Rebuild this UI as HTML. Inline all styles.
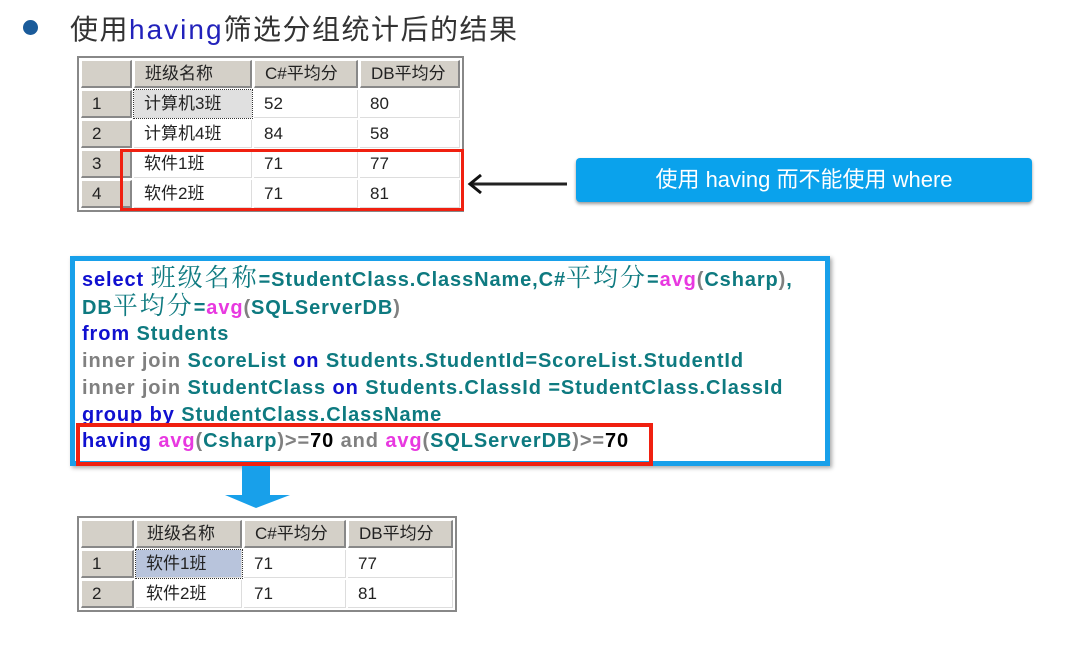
<!DOCTYPE html>
<html><head><meta charset="utf-8"><style>
body{margin:0;width:1089px;height:660px;background:#fff;position:relative;overflow:hidden;font-family:"Liberation Sans","Noto Sans CJK SC",sans-serif}
.a{position:absolute}
table{border-collapse:separate;border-spacing:2px;background:#fff;font-size:17px;font-family:"Liberation Sans","Noto Sans CJK SC",sans-serif;color:#222}
td{padding:0 0 0 10px;height:25px;line-height:25px;border-bottom:1px solid #ddd;border-right:1px solid #ddd}
td.h{background:#d4d0c8;border:1px solid #fff;border-right:2px solid #888;border-bottom:2px solid #888}
.code{font-weight:bold;font-size:20px;letter-spacing:0.9px;line-height:26.7px;color:#0e7a80;white-space:nowrap}
.k{color:#1010d0}.g{color:#808080}.p{color:#e838e0}.b{color:#000}
.cj{font-family:"Noto Serif CJK SC",serif;font-weight:normal;font-size:25px;letter-spacing:2px;line-height:20px}
</style></head><body>
<div class="a" style="left:23px;top:20px;width:15px;height:15px;border-radius:50%;background:#1a5b9a"></div>
<div class="a" style="left:70px;top:8px;font-size:28px;letter-spacing:1.5px;color:#333">使用<span style="color:#2222bb;letter-spacing:2px">having</span>筛选分组统计后的结果</div>

<div class="a" style="left:77px;top:56px;border:2px solid #888;background:#fff">
<table style="width:383px">
<tr><td class="h" style="width:38px"></td><td class="h" style="width:105px">班级名称</td><td class="h" style="width:91px">C#平均分</td><td class="h">DB平均分</td></tr>
<tr><td class="h">1</td><td style="background:#e0e0e0;outline:1px dotted #333">计算机3班</td><td>52</td><td>80</td></tr>
<tr><td class="h">2</td><td>计算机4班</td><td>84</td><td>58</td></tr>
<tr><td class="h">3</td><td>软件1班</td><td>71</td><td>77</td></tr>
<tr><td class="h">4</td><td>软件2班</td><td>71</td><td>81</td></tr>
</table></div>
<div class="a" style="left:120px;top:149px;width:338px;height:56px;border:3px solid #f02010"></div>

<svg class="a" style="left:465px;top:170px" width="110" height="30"><line x1="6" y1="14" x2="102" y2="14" stroke="#222" stroke-width="3"/><polyline points="16,5 5,14 16,23" fill="none" stroke="#111" stroke-width="3"/></svg>
<div class="a" style="left:576px;top:158px;width:456px;height:44px;background:#0aa2ec;border-radius:4px;box-shadow:0 2px 3px #999;color:#fff;font-size:22px;line-height:44px;text-align:center">使用 having 而不能使用 where</div>

<div class="a" style="left:70px;top:256px;width:750px;height:200px;border:5px solid #18a0ea;background:#fff;box-shadow:2px 2px 4px #aaa"></div>
<div class="a code" style="left:82px;top:266px">
<span class="k">select </span><span class="cj">班级名称</span>=StudentClass.ClassName,C#<span class="cj">平均分</span>=<span class="p">avg</span><span class="g">(</span>Csharp<span class="g">)</span>,<br>
DB<span class="cj">平均分</span>=<span class="p">avg</span><span class="g">(</span>SQLServerDB<span class="g">)</span><br>
<span class="k">from</span> Students<br>
<span class="g">inner join</span> ScoreList <span class="k">on</span> Students.StudentId=ScoreList.StudentId<br>
<span class="g">inner join</span> StudentClass <span class="k">on</span> Students.ClassId =StudentClass.ClassId<br>
<span class="k">group by</span> StudentClass.ClassName<br>
<span class="k">having</span> <span class="p">avg</span><span class="g">(</span>Csharp<span class="g">)&gt;=</span><span class="b">70</span> <span class="g">and</span> <span class="p">avg</span><span class="g">(</span>SQLServerDB<span class="g">)&gt;=</span><span class="b">70</span>
</div>
<div class="a" style="left:76px;top:423px;width:569px;height:35px;border:4px solid #f02010"></div>

<svg class="a" style="left:222px;top:466px" width="72" height="45"><polygon points="20,0 48,0 48,29 68,29 34,42 3,29 20,29" fill="#18a0ea"/></svg>

<div class="a" style="left:77px;top:516px;border:2px solid #888;background:#fff">
<table style="width:376px">
<tr><td class="h" style="width:40px"></td><td class="h" style="width:93px">班级名称</td><td class="h" style="width:89px">C#平均分</td><td class="h">DB平均分</td></tr>
<tr><td class="h">1</td><td style="background:#b8c4dc;outline:1px dotted #333">软件1班</td><td>71</td><td>77</td></tr>
<tr><td class="h">2</td><td>软件2班</td><td>71</td><td>81</td></tr>
</table></div>
</body></html>
